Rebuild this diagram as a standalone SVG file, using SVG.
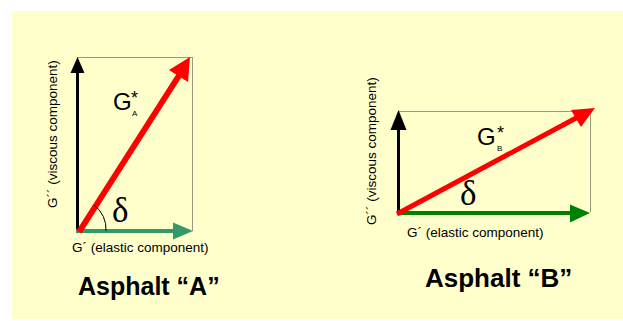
<svg xmlns="http://www.w3.org/2000/svg" width="623" height="321" viewBox="0 0 623 321">
<defs>
<style>
.lbl{font-family:"Liberation Sans",Arial,sans-serif;font-size:13.5px;fill:#000}
.g{font-family:"Liberation Sans",Arial,sans-serif;font-size:24px;fill:#000}
.star{font-family:"Liberation Sans",Arial,sans-serif;font-size:18px;fill:#000}
.sub{font-family:"Liberation Sans",Arial,sans-serif;font-size:8px;fill:#000}
.delta{font-family:"Liberation Serif","Times New Roman",serif;font-size:35px;fill:#000}
.title{font-family:"Liberation Sans",Arial,sans-serif;font-size:25px;font-weight:bold;fill:#000}
.dot{fill:none;stroke:#333;stroke-width:1;stroke-dasharray:1 1}
</style>
</defs>
<rect x="12" y="11" width="611" height="308" fill="#FFFFCC"/>
<g id="diagramA">
  <path class="dot" d="M77.5,57.5 H192.5 V231"/>
  <g id="connectorsA">
    <line x1="77.5" y1="232" x2="77.5" y2="72" stroke="#000" stroke-width="3"/>
    <polygon points="77.5,57 70.5,73 84.5,73" fill="#000"/>
    <line x1="76" y1="231" x2="175" y2="231" stroke="#339966" stroke-width="4"/>
    <polygon points="193,231 173,222.5 173,239.5" fill="#339966"/>
    <line x1="79" y1="232" x2="180" y2="74" stroke="#FF0000" stroke-width="6"/>
    <polygon points="190,57 169,70 188,82" fill="#FF0000"/>
    <path d="M94,205 A30,30 0 0 1 106,231" fill="none" stroke="#000" stroke-width="1"/>
  </g>
  <text class="lbl" transform="translate(57,208) rotate(-90)">G´´ (viscous component)</text>
  <text class="lbl" x="72" y="252">G´ (elastic component)</text>
  <text class="g" x="113" y="110">G</text>
  <text class="star" x="131" y="104">*</text>
  <text class="sub" x="132" y="116">A</text>
  <text class="delta" x="112" y="222">δ</text>
  <text class="title" x="78" y="295">Asphalt “A”</text>
</g>
<g id="diagramB">
  <path class="dot" d="M398.5,111.5 H590.5 V212"/>
  <g id="connectorsB">
    <line x1="398.5" y1="214" x2="398.5" y2="126" stroke="#000" stroke-width="3"/>
    <polygon points="398.5,110 390.5,130 406.5,130" fill="#000"/>
    <line x1="397" y1="213" x2="572" y2="213" stroke="#008000" stroke-width="4"/>
    <polygon points="590,213 570,204.5 570,222.5" fill="#008000"/>
    <line x1="397" y1="214" x2="578" y2="117" stroke="#FF0000" stroke-width="5"/>
    <polygon points="595,108 571,110 581,127" fill="#FF0000"/>
  </g>
  <text class="lbl" transform="translate(376,225) rotate(-90)">G´´ (viscous component)</text>
  <text class="lbl" x="407" y="237">G´ (elastic component)</text>
  <text class="g" x="477" y="145">G</text>
  <text class="star" x="497" y="139">*</text>
  <text class="sub" x="497" y="151">B</text>
  <text class="delta" x="460" y="205">δ</text>
  <text class="title" x="425" y="287" style="font-size:26px">Asphalt “B”</text>
</g>
</svg>
